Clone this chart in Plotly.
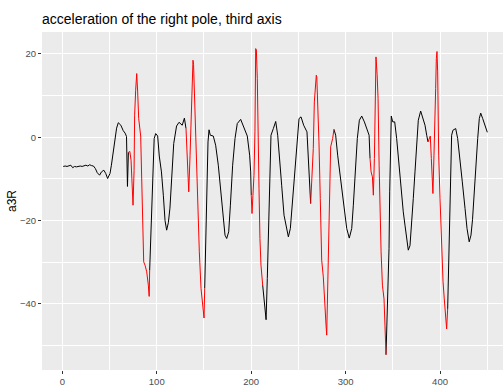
import plotly.graph_objects as go

# time index and a3R values, grouped by run
t_values = [
    1, 3, 5, 7, 9, 11, 13, 15, 17, 19, 21, 23, 25, 27, 29, 31, 33, 35, 37, 39.5, 41.5, 44, 46, 48, 50.5,
    52, 54, 56, 57.5, 59.3, 62, 64.5, 66.5, 68, 69,
    70, 71.5, 72.8, 73.8, 74.9, 76, 76.6, 77.7, 78.8, 79.8, 80.9, 83, 85, 86.2, 87.6, 89.4, 91.1, 92,
    92.5, 93.6, 95.3, 96.4, 97.3, 98.9, 101, 102.7, 105, 107, 108.8, 110.5, 112.3, 114, 115.8, 118, 121,
    123.6, 127, 129.3,
    131, 132.4, 133.9, 135.3, 136.3, 137.7, 138.4, 139, 139.5, 140.9, 142.3, 143.7, 145.1, 146.9, 148.7, 150.1,
    150.8, 151.9, 152.9, 154.3, 155.4, 156.7, 159.9, 162.4, 165.2, 167.7, 170.5, 172.3, 174.1, 176.2, 178,
    180.4, 182.9, 185.3, 188.9, 192.4, 195.9, 198.4, 199.5,
    200.1, 200.9, 201.9, 203, 204, 204.8, 205.5, 206.5, 207.2, 208.3, 209.3, 210.4,
    212.2, 213.9, 215.8, 217.1, 218.2, 219.2, 220, 221, 223.5, 226, 228.1, 229.8, 232.3, 234.8, 237.2, 239.4,
    241.5, 243.6, 246.4, 248.9, 250.7, 252.8, 255.6, 259.1, 260.5, 262.3,
    263, 264.4, 265.8, 266.9, 268.3, 269, 269.5, 270.4, 271.8, 273.2, 274.7, 276.4, 277.9, 279.3, 280, 281,
    282.1, 283.2, 284.2, 286.3,
    287.7, 289.5, 291.6, 294.1, 296.9, 299, 301.2, 303.9, 306.5, 308.2, 310.3, 312.4, 314.6, 317.1, 319.9,
    322.8, 324.9,
    325.9, 327, 328.4, 329.4, 330.5, 331.2, 332.2, 333.4, 334.4, 335.5, 336.6, 337.6, 339, 340.7, 341.7,
    342.8, 343.9, 344.9, 346, 346.7, 347.4, 348.4, 349.9, 352, 354.1, 355.8, 357.6, 359.4, 361.1, 362.9, 364.7,
    366.4, 368.2, 370, 371.7, 373.5, 375.3, 377, 379.5, 382, 384.1, 385.9,
    387.3, 388.7, 389.7, 390.8, 391.8, 392.5, 393.6, 394.7, 395.4, 396.1, 396.8, 397.5, 398.6, 400, 401, 402.1,
    403.2, 404.5, 406, 407,
    408.1, 409.2, 410.2, 411.3, 412.3, 413.7, 416.6, 418.7, 421.2, 423.6, 426.5, 428.6, 430.9, 432.8, 434.4,
    436.2, 438.1, 439.9, 441.6, 443.1, 445.2, 447.3, 450.1,
]
a3R = [
    -7.0, -6.9, -7.0, -6.8, -6.7, -7.3, -7.0, -7.1, -7.0, -6.9, -7.0, -6.8, -6.7, -6.9, -6.6, -6.8, -6.9, -7.5,
    -8.5, -9.1, -8.3, -7.9, -8.7, -9.9, -8.7, -6.7, -3.1, 0.1, 2.2, 3.5, 2.9, 1.6, 1.0, 0.2, -11.8,
    -3.6, -3.4, -5.5, -11, -16.3, -8, 5.3, 11.3, 15.3, 10.9, 4.5, 0.3, -22.7, -29.9, -30.7, -32.3, -35.5, -38.2,
    -32, -24.3, -15.5, -6.7, -0.3, 0.9, 0.3, -4.5, -8.3, -13.9, -20, -22.3, -20.5, -17, -10, -1.5, 2.7,
    3.6, 2.9, 4.6,
    2.1, -5.1, -13.1, -4.3, 4.5, 13.3, 18.5, 17.5, 13.3, 3.7, -6.7, -17.9, -27.5, -36.3, -41.2, -43.4,
    -36.3, -24.3, -10.7, -1.1, 1.8, 0.5, 0.3, -1.9, -6.7, -13.1, -19.5, -23.5, -24.3, -22.7, -16.3,
    -6.7, -0.3, 3.3, 4.3, 2.5, 0.3, -4.3, -8.3,
    -13.9, -18.3, -13.9, -9.1, 1.3, 21.3, 21, 14.1, -0.3, -12.3, -24.3, -30.7,
    -35.5, -40.3, -43.8, -33.9, -21.9, -12.3, -6.7, 0.5, 2.1, 3.8, 0.5, -5.1, -11.5, -18.7, -21.9, -23.9,
    -21.9, -15.5, -7.5, -0.3, 4.5, 4.9, 2.9, 1.3, -5.9, -13.1,
    -15.9, -10.7, -2.7, 8.5, 13.3, 14.9, 14.5, 9.3, -1.1, -14.7, -29.5, -33.5, -41.2, -45.1, -47.5, -34.7,
    -19.5, -8.3, -2.3, -0.3,
    1.9, 0.5, -4.3, -9.1, -14.7, -18.7, -21.9, -24.2, -21.9, -16.3, -8.3, -0.3, 4.1, 5.1, 3.7,
    2.1, 0.5,
    -5.1, -8.3, -9.5, -13.9, -5.1, 7.7, 19.3, 15, 9.3, -6.7, -18.7, -27.5, -35.5, -38.8, -45.1,
    -52.2, -44.3, -36.3, -26.7, -13.1, 0.5, 5.1, 3.7, 3.7, -0.3, -5.1, -9.9, -13.9, -17.9, -21.1, -24.3,
    -27.1, -26, -21.1, -14.7, -8.3, -1.1, 4.1, 6.3, 4.5, 2.9, 0.5,
    -1.1, 0, 0.3, -5.1, -11.5, -13.5, -4.3, 2.9, 11.7, 18.9, 20.6, 15.7, -4.3, -14.7, -22.7, -29.9,
    -34.7, -38.8, -42.7, -46,
    -41.2, -30.7, -20.3, -8.3, 0.5, 1.7, 2.1, -0.3, -5.1, -10.7, -17.1, -21.9, -25.1, -23.5, -19.8,
    -12.7, -6.7, -0.3, 4.5, 5.8, 4.5, 2.9, 1.2,
]
# run lengths: (flag, count) -> 1 = red segment starting at that point
runs = [(0, 35), (1, 18), (0, 20), (1, 16), (0, 23), (1, 12), (0, 26), (1, 20), (0, 17),
        (1, 15), (0, 27), (1, 20), (0, 23)]
is_red = []
for flag, n in runs:
    is_red += [flag] * n

x_ticks = [0, 100, 200, 300, 400]
y_ticks = [-40, -20, 0, 20]
y_label = "a3R"
chart_title = "acceleration of the right pole, third axis"


def segments(want):
    sx, sy = [], []
    prev = False
    for i in range(len(t_values) - 1):
        if is_red[i] == want:
            if not prev:
                if sx:
                    sx.append(None); sy.append(None)
                sx.append(t_values[i]); sy.append(a3R[i])
            sx.append(t_values[i + 1]); sy.append(a3R[i + 1])
            prev = True
        else:
            prev = False
    return sx, sy


bx, by = segments(0)
rx, ry = segments(1)

fig = go.Figure()
fig.add_trace(go.Scatter(x=bx, y=by, mode="lines",
                         line=dict(color="black", width=1), showlegend=False))
fig.add_trace(go.Scatter(x=rx, y=ry, mode="lines",
                         line=dict(color="red", width=1), showlegend=False))

font = "Liberation Sans, Arial, sans-serif"
fig.update_layout(
    width=503, height=389,
    margin=dict(l=42, r=0, t=32, b=19),
    paper_bgcolor="white", plot_bgcolor="#EBEBEB",
    title=dict(text=chart_title,
               x=0, xanchor="left", xref="paper",
               y=1 - 19 / 389, yanchor="middle", yref="container",
               font=dict(family=font, size=14, color="black")),
    font=dict(family=font),
    annotations=[dict(text=y_label, textangle=-90, showarrow=False,
                      xref="paper", yref="paper", x=-30 / 461, y=0.5,
                      xanchor="center", yanchor="middle",
                      font=dict(family=font, size=12, color="black"))],
)
fig.update_xaxes(range=[-21.5, 466.7], tickvals=x_ticks, ticks="outside", ticklen=3,
                 tickcolor="#333333", tickfont=dict(size=9.5, color="#4D4D4D"),
                 showgrid=True, gridcolor="white", gridwidth=1.1, zeroline=False,
                 showline=False,
                 minor=dict(dtick=50, tick0=0, showgrid=True, gridcolor="white", gridwidth=0.5, ticks=""))
fig.update_yaxes(range=[-55.87, 25.28], tickvals=y_ticks, ticks="outside", ticklen=3,
                 tickcolor="#333333", tickfont=dict(size=9.5, color="#4D4D4D"),
                 showgrid=True, gridcolor="white", gridwidth=1.1, zeroline=False,
                 showline=False,
                 minor=dict(dtick=10, tick0=0, showgrid=True, gridcolor="white", gridwidth=0.5, ticks=""))

fig.write_html("out.html")
